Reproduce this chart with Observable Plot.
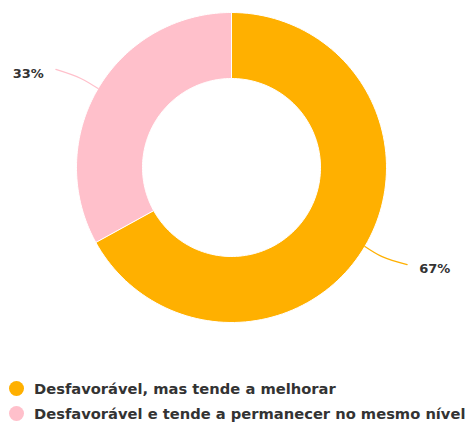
<!DOCTYPE html>
<html>
<head>
<meta charset="utf-8">
<script src="https://cdn.jsdelivr.net/npm/d3@7"></script>
<script src="https://cdn.jsdelivr.net/npm/@observablehq/plot@0.6"></script>
<style>
  html, body { margin: 0; padding: 0; background: #fff; }
  body { width: 471px; height: 425px; overflow: hidden; font-family: "DejaVu Sans", sans-serif; }
  #chart svg { display: block; }
  #legend { padding-top: 31px; }
  .row { position: relative; height: 25px; line-height: 25px; font-size: 14.7px; font-weight: bold; color: #333; white-space: nowrap; }
  .dot { position: absolute; left: 8.5px; top: 5px; width: 15px; height: 15px; border-radius: 50%; }
  .lab { position: absolute; left: 34px; top: 0; }
</style>
</head>
<body>
<div id="chart"></div>
<div id="legend"></div>
<script>
const categories = ["Desfavorável, mas tende a melhorar", "Desfavorável e tende a permanecer no mesmo nível"];
const values = [67, 33];
const valueLabels = ["67%", "33%"];
const palette = ["#FFB000", "#FFC0CB"];

const W = 471, H = 345;
const cx = 231, cy = 167;
const R = 155, r0 = 89;

const data = categories.map((c, i) => ({key: c, value: values[i], label: valueLabels[i]}));
const arcs = d3.pie().sort(null).value(d => d.value)(data);

const pt = (rad, a) => [rad * Math.sin(a), -rad * Math.cos(a)];

const slicePts = [];
for (const a of arcs) {
  const n = 120;
  for (let k = 0; k <= n; k++) {
    const t = a.startAngle + (a.endAngle - a.startAngle) * k / n;
    const [x, y] = pt(R, t);
    slicePts.push({key: a.data.key, x, y});
  }
  for (let k = n; k >= 0; k--) {
    const t = a.startAngle + (a.endAngle - a.startAngle) * k / n;
    const [x, y] = pt(r0, t);
    slicePts.push({key: a.data.key, x, y});
  }
}

const leaderPts = [];
const labelPts = [];
for (const a of arcs) {
  const m = (a.startAngle + a.endAngle) / 2;
  const s = Math.sin(m) >= 0 ? 1 : -1;
  const p0 = pt(R, m);
  const p1 = pt(R + 20, m);
  const p2 = [p1[0] + s * 25, p1[1] + (p1[1] >= 0 ? 8 : -9)];
  for (const p of [p0, p1, p2]) leaderPts.push({key: a.data.key, x: p[0], y: p[1]});
  labelPts.push({key: a.data.key, label: a.data.label, x: p2[0] + s * 12, y: p2[1] + 4, anchor: s > 0 ? "start" : "end"});
}

const chart = Plot.plot({
  width: W, height: H, margin: 0,
  x: {domain: [-cx, W - cx], range: [0, W], axis: null},
  y: {domain: [-cy, H - cy], range: [0, H], axis: null},
  color: {domain: categories, range: palette},
  marks: [
    Plot.line(slicePts, {x: "x", y: "y", z: "key", fill: "key", stroke: "white", strokeWidth: 1, curve: "linear-closed"}),
    Plot.line(leaderPts, {x: "x", y: "y", z: "key", stroke: "key", strokeWidth: 1.2, curve: "catmull-rom"}),
    Plot.text(labelPts.filter(d => d.anchor === "start"), {x: "x", y: "y", text: "label", textAnchor: "start", fontSize: 13, fontWeight: "bold", fill: "#333", fontFamily: "DejaVu Sans"}),
    Plot.text(labelPts.filter(d => d.anchor === "end"), {x: "x", y: "y", text: "label", textAnchor: "end", fontSize: 13, fontWeight: "bold", fill: "#333", fontFamily: "DejaVu Sans"})
  ]
});
document.getElementById("chart").appendChild(chart);

const legend = document.getElementById("legend");
categories.forEach((c, i) => {
  const row = document.createElement("div");
  row.className = "row";
  const dot = document.createElement("span");
  dot.className = "dot";
  dot.style.background = palette[i];
  const lab = document.createElement("span");
  lab.className = "lab";
  lab.textContent = c;
  row.appendChild(dot);
  row.appendChild(lab);
  legend.appendChild(row);
});
</script>
</body>
</html>
